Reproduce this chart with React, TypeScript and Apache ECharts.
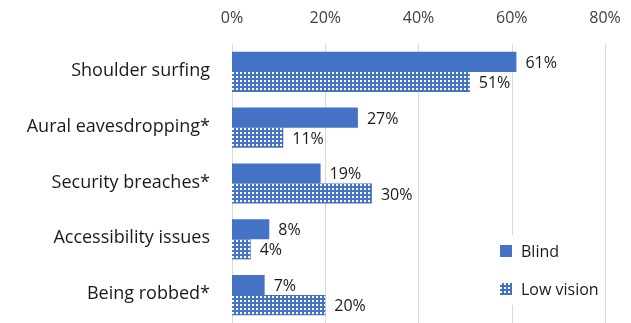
import React, { useEffect, useRef } from "react";
import * as echarts from "echarts";

const categories = ["Shoulder surfing", "Aural eavesdropping*", "Security breaches*", "Accessibility issues", "Being robbed*"];
const blind = [61, 27, 19, 8, 7];
const lowVision = [51, 11, 30, 4, 20];
const seriesNames = ["Blind", "Low vision"];

export default function App() {
  const ref = useRef<HTMLDivElement>(null);
  useEffect(() => {
    const chart = echarts.init(ref.current!, null, { renderer: "svg" });
    const font = "'Open Sans', sans-serif";
    const labelStyle = {
      show: true,
      position: "right" as const,
      distance: 9,
      formatter: "{c}%",
      color: "#1a1a1a",
      fontSize: 16,
      fontFamily: font,
    };
    const decal = {
      symbol: "rect",
      symbolSize: 1,
      color: "#ffffff",
      dashArrayX: [2, 2],
      dashArrayY: [2, 2],
      rotation: 0,
    };
    chart.setOption({
      animation: false,
      textStyle: { fontFamily: font },
      grid: { left: 232, right: 26, top: 44, bottom: 0 },
      legend: {
        orient: "vertical",
        left: 494,
        top: 235,
        icon: "rect",
        itemWidth: 12,
        itemHeight: 12,
        itemGap: 18,
        backgroundColor: "#ffffff",
        padding: [6, 6, 6, 6],
        textStyle: { fontSize: 16, lineHeight: 20, color: "#1a1a1a", fontFamily: font, padding: [0, 0, 0, 4] },
        data: seriesNames,
      },
      xAxis: {
        type: "value",
        position: "top",
        min: 0,
        max: 80,
        interval: 20,
        axisLabel: { formatter: "{value}%", fontSize: 16, color: "#404040", fontFamily: font, margin: 19 },
        axisLine: { show: false },
        axisTick: { show: false },
        splitLine: { lineStyle: { color: "#d9d9d9", width: 1 } },
      },
      yAxis: {
        type: "category",
        inverse: true,
        data: categories,
        axisLine: { show: false },
        axisTick: { show: false },
        axisLabel: {
          margin: 22,
          formatter: "{a|{value}}",
          rich: {
            a: { fontSize: 18, color: "#1a1a1a", fontFamily: font, padding: [0, 0, 6, 0] },
          },
        },
      },
      series: [
        {
          name: seriesNames[0],
          type: "bar",
          data: blind,
          barGap: "0%",
          barCategoryGap: "28%",
          itemStyle: { color: "#4472C4" },
          label: labelStyle,
        },
        {
          name: seriesNames[1],
          type: "bar",
          data: lowVision,
          barGap: "0%",
          barCategoryGap: "28%",
          itemStyle: { color: "#4472C4", decal },
          label: labelStyle,
        },
      ],
    });
    return () => chart.dispose();
  }, []);
  return <div ref={ref} style={{ position: "fixed", left: 0, top: 0, width: 631, height: 323 }} />;
}
